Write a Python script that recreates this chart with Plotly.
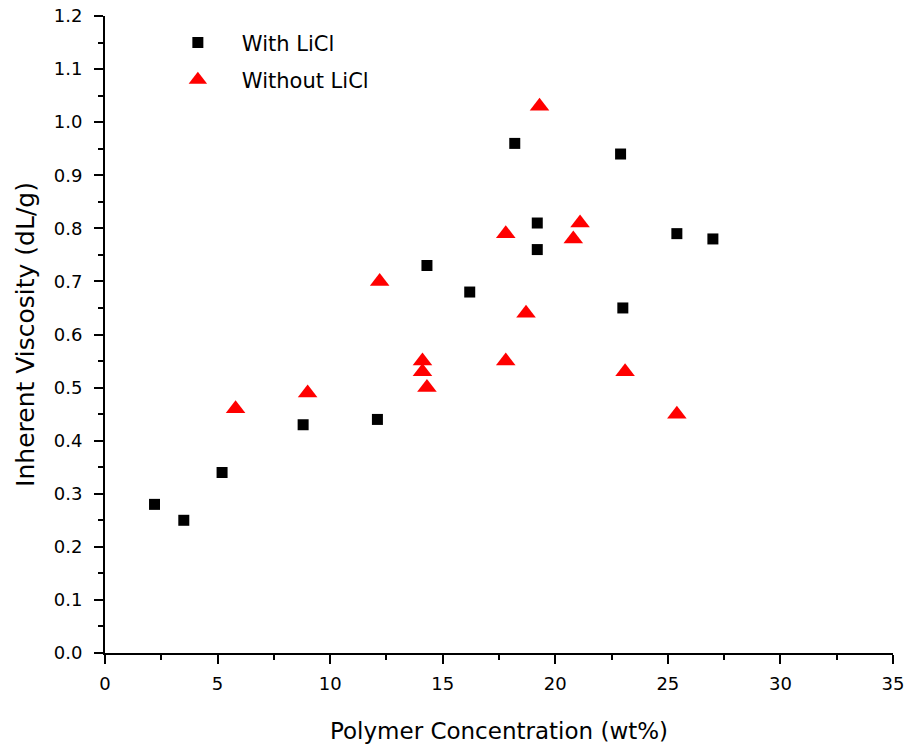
import plotly.graph_objects as go

# Inherent viscosity vs polymer concentration
with_licl_conc = [2.2, 3.5, 5.2, 8.8, 12.1, 14.3, 16.2, 18.2, 19.2, 19.2, 22.9, 23.0, 25.4, 27.0]
with_licl_visc = [0.28, 0.25, 0.34, 0.43, 0.44, 0.73, 0.68, 0.96, 0.81, 0.76, 0.94, 0.65, 0.79, 0.78]

without_licl_conc = [5.8, 9.0, 12.2, 14.1, 14.1, 14.3, 17.8, 17.8, 18.7, 19.3, 20.8, 21.1, 23.1, 25.4]
without_licl_visc = [0.46, 0.49, 0.70, 0.55, 0.53, 0.50, 0.79, 0.55, 0.64, 1.03, 0.78, 0.81, 0.53, 0.45]

x_range = [0, 35]
y_range = [0, 1.2]

font_family = "'DejaVu Sans', 'Open Sans', sans-serif"

fig = go.Figure()
fig.add_trace(go.Scatter(
    x=with_licl_conc, y=with_licl_visc, mode="markers", name="With LiCl",
    legendgroup="a",
    marker=dict(symbol="square", size=11, color="black"),
))
fig.add_trace(go.Scatter(
    x=without_licl_conc, y=without_licl_visc, mode="markers", name="Without LiCl",
    legendgroup="b",
    marker=dict(symbol="triangle-up", size=17, color="#ff0000"),
))

axis_common = dict(
    showline=True, linecolor="black", linewidth=2,
    ticks="outside", tickwidth=2, ticklen=9, tickcolor="black",
    showgrid=False, zeroline=False, mirror=False, automargin=False,
    tickfont=dict(family=font_family, size=18, color="black"),
)

fig.update_xaxes(
    range=x_range, dtick=5, tick0=0,
    minor=dict(ticks="outside", dtick=2.5, ticklen=5, tickwidth=2, tickcolor="black"),
    title=dict(text="Polymer Concentration (wt%)", font=dict(family=font_family, size=23, color="black"), standoff=30),
    ticklabelstandoff=4,
    **axis_common,
)
fig.update_yaxes(
    range=y_range, dtick=0.1, tick0=0, tickformat=".1f",
    minor=dict(ticks="outside", dtick=0.05, ticklen=5, tickwidth=2, tickcolor="black"),
    title=dict(text="Inherent Viscosity (dL/g)", font=dict(family=font_family, size=25, color="black"), standoff=12),
    ticklabelstandoff=8,
    **axis_common,
)

fig.update_layout(
    width=910, height=748,
    margin=dict(l=105, r=17, t=16, b=95),
    plot_bgcolor="white", paper_bgcolor="white",
    legend=dict(
        x=0.062, y=0.99, xanchor="left", yanchor="top",
        font=dict(family=font_family, size=21, color="black"),
        bgcolor="rgba(0,0,0,0)", itemwidth=78, tracegroupgap=7,
    ),
)

fig.write_html("out.html")
